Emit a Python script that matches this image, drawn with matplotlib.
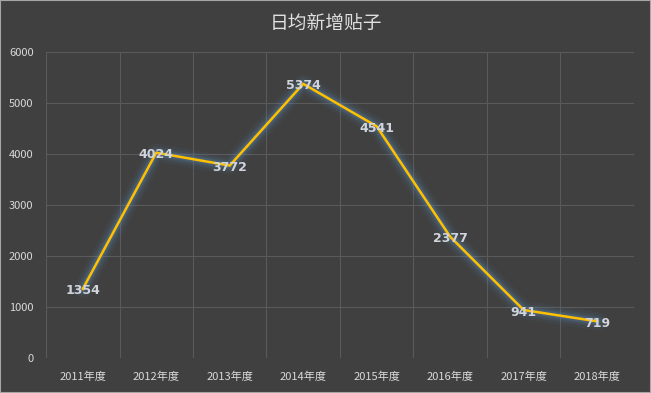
import matplotlib
matplotlib.use('Agg')
import matplotlib.pyplot as plt
import numpy as np

plt.rcParams['font.family'] = ['Noto Sans CJK SC', 'DejaVu Sans']

anios = ['2011年度', '2012年度', '2013年度', '2014年度', '2015年度', '2016年度', '2017年度', '2018年度']
posts_diarios = [1354, 4024, 3772, 5374, 4541, 2377, 941, 719]
y_ticks = [0, 1000, 2000, 3000, 4000, 5000, 6000]

fondo = '#404040'
fig = plt.figure(figsize=(6.51, 3.93), dpi=100, facecolor=fondo)
ax = fig.add_axes([0.0707, 0.089, 0.903, 0.779])
ax.set_facecolor(fondo)

x = np.arange(len(anios))

# brillo azul alrededor de la linea
for ancho, alfa in [(13, 0.07), (9, 0.11), (6, 0.16), (4, 0.22)]:
    ax.plot(x, posts_diarios, color='#5b87b4', linewidth=ancho, alpha=alfa,
            solid_capstyle='round', solid_joinstyle='round', zorder=2)
ax.plot(x, posts_diarios, color='#FFC000', linewidth=1.8, zorder=3)

for xi, v in zip(x, posts_diarios):
    ax.text(xi, v - 40, f'{v}', ha='center', va='center', fontsize=9, fontweight='bold',
            color='#d0d4dc', family=['DejaVu Sans'], zorder=4)

ax.set_xlim(-0.5, len(anios) - 0.5)
ax.set_ylim(0, 6000)
ax.set_yticks(y_ticks)
ax.set_yticklabels([str(t) for t in y_ticks])
ax.set_xticks(x)
ax.set_xticklabels(anios)
ax.set_xticks(np.arange(-0.5, len(anios)), minor=True)

ax.grid(axis='y', which='major', color='#5a5a5a', linewidth=0.8)
ax.grid(axis='x', which='minor', color='#5a5a5a', linewidth=0.8)
ax.grid(axis='x', which='major', visible=False)
ax.set_axisbelow(True)

ax.tick_params(axis='both', which='both', length=0, colors='#d9d9d9', labelsize=8)
ax.tick_params(axis='x', pad=10)
ax.tick_params(axis='y', pad=9)
for s in ax.spines.values():
    s.set_visible(False)

fig.text(0.5, 0.94, '日均新增贴子', ha='center', va='center', fontsize=13.5, color='#e0e0e0')

# borde exterior
fig.patches.append(plt.Rectangle((0, 0), 1, 1, transform=fig.transFigure, fill=False,
                                 edgecolor='#a6a6a6', linewidth=1.5))

plt.savefig('out.png', dpi=100, facecolor=fondo)
plt.close()
